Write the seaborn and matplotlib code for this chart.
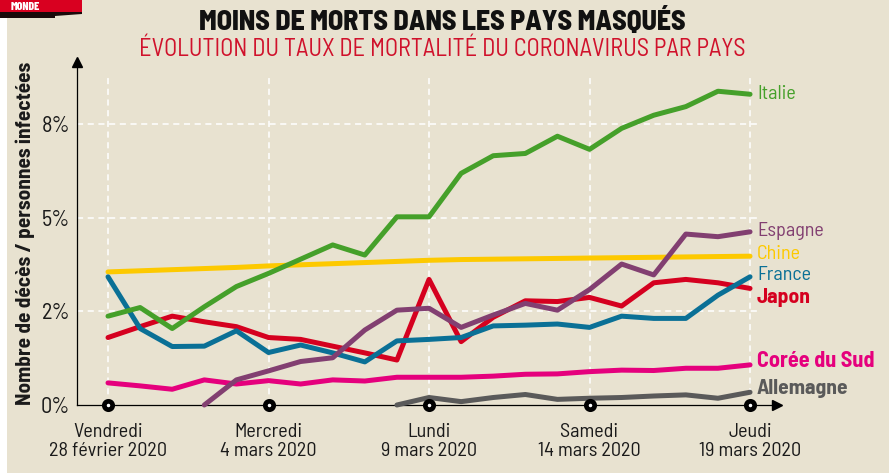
import matplotlib
matplotlib.use('Agg')
import matplotlib.pyplot as plt
import matplotlib.patches as mpatches
import seaborn as sns
import numpy as np
import pandas as pd

# jours depuis le vendredi 28 février 2020
jours = list(range(21))

italie = [2.37, 2.60, 2.04, 2.62, 3.16, 3.51, 3.89, 4.27, 4.00, 5.02, 5.02,
          6.18, 6.65, 6.71, 7.17, 6.82, 7.38, 7.73, 7.96, 8.37, 8.29]
chine = [3.55, 3.58, 3.61, 3.64, 3.67, 3.71, 3.74, 3.77, 3.80, 3.83, 3.86,
         3.88, 3.89, 3.90, 3.91, 3.92, 3.93, 3.94, 3.95, 3.96, 3.97]
france = [3.42, 2.04, 1.56, 1.57, 1.98, 1.40, 1.60, 1.39, 1.15, 1.71, 1.75,
          1.80, 2.11, 2.13, 2.16, 2.07, 2.37, 2.31, 2.31, 2.93, 3.42]
japon = [1.80, 2.09, 2.37, 2.22, 2.09, 1.80, 1.75, 1.57, 1.39, 1.20, 3.35,
         1.69, 2.34, 2.78, 2.76, 2.87, 2.64, 3.26, 3.35, 3.26, 3.11]
espagne = [np.nan, np.nan, np.nan, 0.0, 0.67, 0.91, 1.16, 1.26, 2.00, 2.53, 2.58,
           2.07, 2.40, 2.71, 2.53, 3.08, 3.76, 3.47, 4.56, 4.49, 4.62]
coree = [0.59, 0.51, 0.42, 0.67, 0.56, 0.65, 0.56, 0.67, 0.64, 0.74, 0.74,
         0.74, 0.77, 0.82, 0.83, 0.89, 0.93, 0.92, 0.98, 0.98, 1.07]
allemagne = [np.nan] * 9 + [0.0, 0.20, 0.09, 0.20, 0.28, 0.15, 0.18, 0.20,
                            0.24, 0.27, 0.18, 0.34]

ticks_x = [0, 5, 10, 15, 20]
labels_x = ['Vendredi\n28 février 2020', 'Mercredi\n4 mars 2020', 'Lundi\n9 mars 2020',
            'Samedi\n14 mars 2020', 'Jeudi\n19 mars 2020']
ticks_y = [0, 2.5, 5, 7.5]
labels_y = ['0%', '2%', '5%', '8%']

series = {
    'Chine': chine,
    'Corée du Sud': coree,
    'Allemagne': allemagne,
    'Japon': japon,
    'France': france,
    'Espagne': espagne,
    'Italie': italie,
}

palette = {
    'Italie': '#45a02a',
    'Chine': '#fdc900',
    'France': '#0a7096',
    'Japon': '#d5001f',
    'Espagne': '#823f71',
    'Corée du Sud': '#e5007d',
    'Allemagne': '#5a5a5a',
}

# étiquettes à droite : décalage vertical (pt), graisse, taille
etiquettes = {
    'Italie': (0.5, 'normal', 14.5),
    'Espagne': (0.5, 'normal', 14.5),
    'Chine': (1.5, 'normal', 14.5),
    'France': (1.5, 'normal', 14.5),
    'Japon': (-6.5, 'bold', 15.5),
    'Corée du Sud': (2.5, 'bold', 16),
    'Allemagne': (2.5, 'bold', 15.5),
}

df = pd.DataFrame([
    {'jour': j, 'pays': p, 'taux': v}
    for p, vals in series.items() for j, v in zip(jours, vals)
])

fond = '#e8e2d0'
plt.rcParams['font.family'] = ['Barlow Semi Condensed', 'DejaVu Sans']

fig = plt.figure(figsize=(8.89, 4.76), dpi=100)
fig.patch.set_facecolor(fond)
# bords blancs de la page
fig.patches.append(mpatches.Rectangle((0, 0), 7 / 889, 1, transform=fig.transFigure,
                                      facecolor='white', edgecolor='none'))
fig.patches.append(mpatches.Rectangle((0, 0), 1, 3 / 476, transform=fig.transFigure,
                                      facecolor='white', edgecolor='none'))
# bandeau rouge en haut à gauche
fig.patches.append(mpatches.Polygon([[0, 1 - 8 / 476], [0, 1 - 18 / 476], [55 / 889, 1 - 18 / 476],
                                     [55 / 889, 1 - 16 / 476], [82 / 889, 1 - 14 / 476], [82 / 889, 1 - 8 / 476]],
                                    closed=True, transform=fig.transFigure, facecolor='#1a0a0a',
                                    edgecolor='none'))
fig.patches.append(mpatches.Rectangle((0, 1 - 12 / 476), 82 / 889, 12 / 476, transform=fig.transFigure,
                                      facecolor='#d90020', edgecolor='none'))
fig.text(0.012, 1 - 6.5 / 476, 'MONDE', color='white', fontsize=8.5, fontweight='heavy',
         family='Barlow Condensed', ha='left', va='center')

ax = fig.add_axes([77 / 889, 71 / 476, 700 / 889, 343 / 476])
ax.set_facecolor('none')

sns.lineplot(data=df, x='jour', y='taux', hue='pays', hue_order=list(series.keys()),
             palette=palette, linewidth=3.6, estimator=None, legend=False, ax=ax)
for line in ax.get_lines():
    line.set_clip_on(False)
    line.set_solid_capstyle('round')
    line.set_solid_joinstyle('round')
    line.set_zorder(3)

ax.set_xlim(-0.966, 20.84)
ax.set_ylim(0, 9.15)

# grille pointillée blanche
ax.vlines(ticks_x, 0, 8.72, colors='white', linestyles=(0, (4, 3)), linewidth=1.1, zorder=1)
ax.hlines(ticks_y[1:], -0.966, 20.25, colors='white', linestyles=(0, (4, 3)), linewidth=1.1, zorder=1)

for s in ['top', 'right']:
    ax.spines[s].set_visible(False)
for s in ['left', 'bottom']:
    ax.spines[s].set_color('black')
    ax.spines[s].set_linewidth(0.9)
ax.plot(1, 0, '>', color='black', ms=7, transform=ax.transAxes, clip_on=False)
ax.plot(0, 1, '^', color='black', ms=7, transform=ax.transAxes, clip_on=False)

ax.plot(ticks_x, [0] * len(ticks_x), 'o', ms=6, mfc='white', mec='black', mew=3.4,
        clip_on=False, zorder=5)

ax.set_xticks(ticks_x)
ax.set_xticklabels(labels_x, fontsize=14.5, linespacing=1.08, color='#1a1a1a')
ax.set_yticks(ticks_y)
ax.set_yticklabels(labels_y, fontsize=16, color='#1a1a1a')
ax.tick_params(axis='x', length=0, pad=13)
ax.tick_params(axis='y', length=0, pad=5)
ax.set_xlabel('')
ax.set_ylabel('Nombre de décès / personnes infectées', fontsize=15.3, fontweight='bold',
              color='#1a1a1a', labelpad=4)

for pays, (dy, poids, taille) in etiquettes.items():
    vals = series[pays]
    ax.annotate(pays, xy=(jours[-1], vals[-1]), xytext=(5, dy), textcoords='offset points',
                color=palette[pays], fontsize=taille, fontweight=poids, ha='left', va='center',
                annotation_clip=False)

fig.text(0.498, 0.955, 'MOINS DE MORTS DANS LES PAYS MASQUÉS', fontsize=20, fontweight='heavy',
         color='#111111', ha='center', va='center')
fig.text(0.497, 0.896, 'ÉVOLUTION DU TAUX DE MORTALITÉ DU CORONAVIRUS PAR PAYS', fontsize=17.5,
         color='#d0112b', ha='center', va='center')

fig.savefig('out.png', dpi=100, facecolor=fig.get_facecolor())
